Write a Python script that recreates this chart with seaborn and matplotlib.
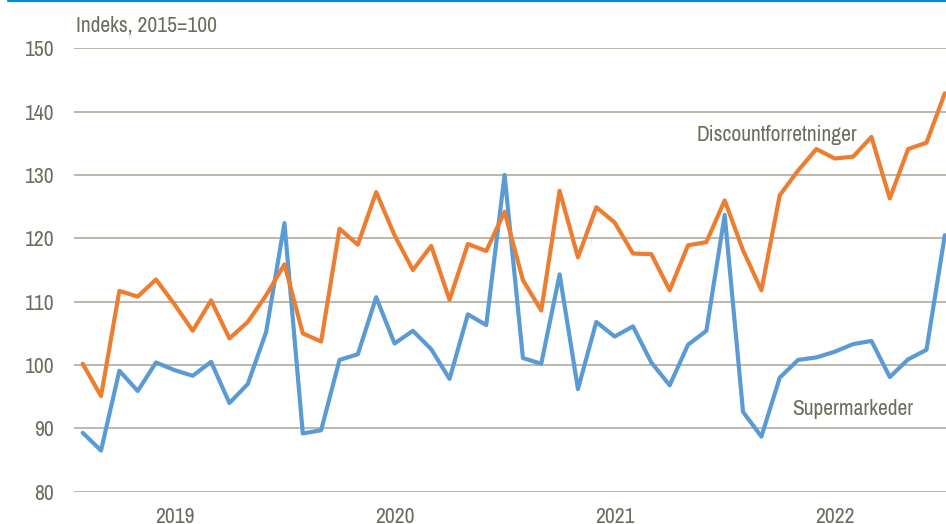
import matplotlib
matplotlib.use("Agg")
import matplotlib.pyplot as plt
import seaborn as sns
import pandas as pd
import numpy as np

# ---- data (monthly, Jan 2019 - Dec 2022) ----
years = ["2019", "2020", "2021", "2022"]
discount = [100.2, 95.1, 111.7, 110.8, 113.5, 109.6, 105.4, 110.2, 104.2, 106.8, 111.0, 115.9,
            105.0, 103.7, 121.5, 119.0, 127.3, 120.5, 115.0, 118.8, 110.3, 119.1, 118.0, 124.2,
            113.4, 108.6, 127.5, 117.0, 124.9, 122.5, 117.6, 117.5, 111.8, 118.9, 119.4, 126.0,
            118.1, 111.8, 126.8, 130.7, 134.1, 132.6, 132.9, 136.0, 126.3, 134.1, 135.1, 142.9]
supermarked = [89.3, 86.5, 99.1, 95.9, 100.4, 99.2, 98.3, 100.5, 94.0, 97.0, 105.2, 122.4,
               89.2, 89.7, 100.8, 101.7, 110.7, 103.4, 105.4, 102.5, 97.8, 108.0, 106.3, 130.0,
               101.1, 100.2, 114.3, 96.2, 106.8, 104.5, 106.1, 100.4, 96.8, 103.2, 105.4, 123.7,
               92.6, 88.7, 98.0, 100.8, 101.2, 102.1, 103.3, 103.8, 98.1, 100.9, 102.4, 120.5]
yticks = [80, 90, 100, 110, 120, 130, 140, 150]
series_names = ["Discountforretninger", "Supermarkeder"]
ylabel_text = "Indeks, 2015=100"

n = len(discount)
df = pd.DataFrame({
    "t": list(range(n)) * 2,
    "value": discount + supermarked,
    "series": [series_names[0]] * n + [series_names[1]] * n,
})

sns.set_style("white")
plt.rcParams["font.family"] = ["Archivo Narrow", "PT Sans Narrow", "Liberation Sans", "DejaVu Sans"]
txt = "#6e6c5f"
grid = "#b5b3a6"
fs = 15.5

W, H = 946, 524
fig = plt.figure(figsize=(W / 100, H / 100), dpi=100)
ax = fig.add_axes([73.5 / W, 32.3 / H, (954 - 73.5) / W, 443.4 / H])

for y in yticks:
    ax.axhline(y, color=grid, lw=1.3, zorder=0)

sns.lineplot(data=df, x="t", y="value", hue="series",
             palette={series_names[0]: "#ED7D31", series_names[1]: "#5B9BD5"},
             hue_order=[series_names[1], series_names[0]],
             linewidth=3.0, legend=False, ax=ax, zorder=3)

ax.set_xlim(-0.5, n - 0.5)
ax.set_ylim(80, 150)
ax.set_yticks(yticks)
ax.set_yticklabels([str(v) for v in yticks])
ax.set_xticks([5 + 12 * i for i in range(len(years))])
ax.set_xticklabels(years)
ax.tick_params(axis="both", length=0, labelsize=fs, colors=txt)
ax.tick_params(axis="y", pad=14)
ax.tick_params(axis="x", pad=11)
ax.set_xlabel("")
ax.set_ylabel("")
for s in ax.spines.values():
    s.set_visible(False)

ax.text(33.48, 135.3, series_names[0], fontsize=fs, color=txt, va="baseline", ha="left")
ax.text(38.65, 92.1, series_names[1], fontsize=fs, color=txt, va="baseline", ha="left")

fig.text(76 / W, 1 - 31.7 / H, ylabel_text, fontsize=fs, color=txt, va="baseline", ha="left")

# top blue rule
fig.add_artist(plt.Line2D([8 / W, 1], [1 - 0.8 / H, 1 - 0.8 / H], color="#0091d5", lw=1.6,
                          transform=fig.transFigure))

fig.savefig("out.png", dpi=100)
